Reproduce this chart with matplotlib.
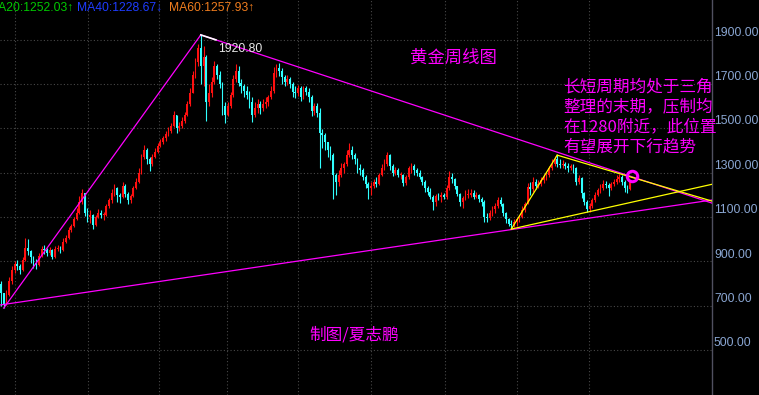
import numpy as np
import matplotlib
matplotlib.use("Agg")
import matplotlib.pyplot as plt
from matplotlib.transforms import blended_transform_factory

closes = [760, 710, 750, 810, 860, 890, 880, 860, 905, 960,
          945, 920, 895, 885, 925, 955, 950, 940, 950, 920,
          955, 960, 950, 990, 1005, 1040, 1060, 1090, 1120, 1170,
          1210, 1120, 1100, 1110, 1065, 1100, 1120, 1110, 1110, 1150,
          1175, 1210, 1230, 1200, 1190, 1240, 1205, 1175, 1195, 1230,
          1260, 1300, 1370, 1400, 1360, 1340, 1370, 1395, 1420, 1440,
          1455, 1475, 1490, 1510, 1560, 1500, 1510, 1535, 1560, 1610,
          1660, 1740, 1800, 1860, 1780, 1820, 1620, 1660, 1710, 1780,
          1740, 1700, 1600, 1560, 1600, 1650, 1720, 1760, 1705, 1690,
          1670, 1650, 1620, 1560, 1590, 1610, 1590, 1610, 1620, 1640,
          1670, 1750, 1770, 1760, 1730, 1710, 1720, 1700, 1665, 1660,
          1680, 1640, 1680, 1665, 1640, 1580, 1600, 1570, 1480, 1470,
          1440, 1400, 1380, 1290, 1260, 1290, 1320, 1340, 1380, 1400,
          1380, 1360, 1320, 1310, 1280, 1250, 1230, 1240, 1260, 1250,
          1290, 1320, 1340, 1380, 1330, 1300, 1310, 1290, 1290, 1255,
          1280, 1320, 1330, 1310, 1300, 1280, 1260, 1230, 1215, 1190,
          1170, 1195, 1190, 1200, 1190, 1230, 1280, 1270, 1240, 1205,
          1170, 1185, 1200, 1200, 1210, 1190, 1200, 1180, 1170, 1100,
          1095, 1120, 1135, 1150, 1175, 1160, 1120, 1090, 1070, 1065,
          1080, 1090, 1100, 1130, 1160, 1235, 1225, 1260, 1240, 1250,
          1265, 1280, 1290, 1320, 1340, 1360, 1340, 1335, 1340, 1330,
          1320, 1330, 1320, 1260, 1275, 1210, 1170, 1135, 1150, 1175,
          1200, 1220, 1230, 1250, 1245, 1230, 1250, 1260, 1270, 1280,
          1260, 1230, 1225, 1260]
highs = [810, 760, 770, 830, 880, 900, 905, 890, 920, 1005,
         1000, 950, 925, 910, 940, 970, 975, 960, 965, 955,
         970, 975, 970, 1005, 1020, 1055, 1070, 1100, 1140, 1195,
         1226, 1200, 1140, 1130, 1115, 1110, 1135, 1130, 1125, 1160,
         1185, 1225, 1250, 1235, 1210, 1260, 1250, 1215, 1205, 1240,
         1275, 1320, 1385, 1424, 1410, 1370, 1385, 1410, 1435, 1450,
         1465, 1490, 1505, 1525, 1577, 1560, 1530, 1550, 1575, 1625,
         1680, 1760, 1815, 1880, 1920.8, 1870, 1830, 1700, 1730, 1803,
         1790, 1760, 1710, 1620, 1620, 1665, 1740, 1790, 1780, 1720,
         1700, 1690, 1670, 1640, 1620, 1630, 1625, 1630, 1640, 1650,
         1690, 1775, 1790, 1795, 1770, 1740, 1740, 1730, 1710, 1690,
         1695, 1690, 1690, 1690, 1680, 1650, 1615, 1615, 1590, 1495,
         1480, 1440, 1420, 1390, 1300, 1310, 1345, 1350, 1400, 1434,
         1420, 1390, 1365, 1340, 1320, 1290, 1260, 1260, 1270, 1280,
         1300, 1340, 1360, 1392, 1385, 1340, 1325, 1320, 1305, 1295,
         1290, 1330, 1345, 1340, 1320, 1310, 1285, 1265, 1240, 1230,
         1200, 1205, 1210, 1215, 1210, 1245, 1307, 1300, 1275, 1240,
         1210, 1195, 1220, 1225, 1225, 1220, 1215, 1205, 1190, 1175,
         1120, 1130, 1150, 1165, 1190, 1191, 1165, 1125, 1095, 1085,
         1090, 1100, 1110, 1150, 1170, 1255, 1260, 1282, 1270, 1265,
         1280, 1295, 1305, 1330, 1360, 1375, 1379, 1360, 1355, 1350,
         1345, 1340, 1340, 1325, 1290, 1280, 1215, 1175, 1165, 1185,
         1215, 1230, 1250, 1265, 1263, 1255, 1260, 1270, 1290, 1295,
         1290, 1265, 1245, 1265]
lows = [700, 690, 705, 745, 800, 850, 860, 845, 855, 900,
        930, 895, 870, 865, 880, 920, 935, 925, 930, 910,
        915, 945, 940, 945, 985, 1000, 1035, 1055, 1085, 1115,
        1160, 1105, 1080, 1075, 1045, 1060, 1095, 1095, 1085, 1105,
        1140, 1165, 1195, 1170, 1165, 1185, 1190, 1158, 1165, 1190,
        1225, 1255, 1295, 1360, 1340, 1308, 1330, 1365, 1390, 1415,
        1430, 1445, 1465, 1480, 1505, 1480, 1490, 1500, 1525, 1555,
        1600, 1660, 1725, 1780, 1700, 1690, 1535, 1600, 1640, 1700,
        1720, 1680, 1560, 1523, 1555, 1590, 1640, 1710, 1690, 1660,
        1640, 1630, 1590, 1527, 1550, 1570, 1565, 1580, 1590, 1600,
        1630, 1660, 1730, 1735, 1700, 1690, 1695, 1680, 1640, 1635,
        1645, 1625, 1630, 1650, 1620, 1555, 1560, 1550, 1321, 1410,
        1400, 1370, 1355, 1180, 1200, 1240, 1280, 1300, 1330, 1370,
        1360, 1340, 1300, 1290, 1265, 1230, 1182, 1200, 1230, 1235,
        1245, 1285, 1310, 1330, 1310, 1285, 1290, 1280, 1270, 1240,
        1245, 1270, 1300, 1290, 1285, 1270, 1245, 1215, 1200, 1180,
        1131, 1150, 1175, 1170, 1180, 1180, 1220, 1255, 1225, 1195,
        1150, 1142, 1175, 1185, 1190, 1180, 1185, 1170, 1150, 1077,
        1080, 1085, 1105, 1120, 1140, 1150, 1105, 1075, 1060, 1046,
        1055, 1060, 1080, 1095, 1125, 1160, 1200, 1215, 1225, 1230,
        1240, 1255, 1265, 1280, 1310, 1330, 1325, 1320, 1320, 1315,
        1305, 1310, 1300, 1245, 1250, 1185, 1155, 1122, 1125, 1140,
        1170, 1195, 1210, 1220, 1230, 1195, 1220, 1240, 1250, 1260,
        1245, 1214, 1210, 1220]
first_open = 800
opens = [first_open] + closes[:-1]
assert len(closes) == len(highs) == len(lows)

price_ticks = [500, 700, 900, 1100, 1300, 1500, 1700, 1900]
year_start_idx = [5.2, 32.2, 58.5, 83.7, 110, 137, 164.4, 191.1, 217.8]
ma_labels = ["MA20:1252.03\u2191", "MA40:1228.67\u2193", "MA60:1257.93\u2191"]
ma_colors = ["#00c800", "#1e3cff", "#f07d1e"]
note_lines = ["长短周期均处于三角", "整理的末期，压制均", "在1280附近，此位置", "有望展开下行趋势"]

W, H = 759, 395
plt.rcParams['font.family'] = ['Liberation Sans', 'DejaVu Sans']
CJK = ['Noto Sans CJK SC', 'DejaVu Sans']
MAG = '#ff00ff'


def fx(x):
    return x / W


def fy(y):
    return 1 - y / H


fig = plt.figure(figsize=(W / 100, H / 100), dpi=100, facecolor='black')
ax = fig.add_axes([0, 0, 712 / W, 1], facecolor='black')
ax.set_xlim(-1 / 2.7, 711 / 2.7)
ax.set_ylim(298.5, 2078)
for s in ['left', 'top', 'bottom']:
    ax.spines[s].set_visible(False)
ax.spines['right'].set_color('#505060')
ax.spines['right'].set_linewidth(1.0)
ax.set_xticks([])
ax.set_yticks([])

# dotted grid
for p in price_ticks:
    ax.axhline(p, color='#484848', lw=0.8, ls=(0, (1, 2)), zorder=0)
for xi in year_start_idx:
    ax.axvline(xi, color='#484848', lw=0.8, ls=(0, (1, 2)), zorder=0)

# candles
o = np.array(opens, float)
c = np.array(closes, float)
hi = np.maximum(np.array(highs, float), np.maximum(o, c))
lo = np.minimum(np.array(lows, float), np.minimum(o, c))
idx = np.arange(len(c))
up = c >= o
cols = np.where(up, '#ff1010', '#30ffff')
ax.vlines(idx, lo, hi, colors=cols, lw=0.8, zorder=2)
body = np.maximum(np.abs(c - o), 4.5)
ax.bar(idx, body, bottom=np.minimum(o, c), width=0.6, color=cols, lw=0, zorder=2)

# trend lines
x_end = 711 / 2.7
x_start = -1 / 2.7
i_peak = 74
ax.plot([1, i_peak], [lows[1], highs[i_peak]], color=MAG, lw=0.9, zorder=3)
ax.plot([i_peak, x_end], [highs[i_peak], 1163], color=MAG, lw=0.9, zorder=3)
ax.plot([x_start, x_end], [704, 1177], color=MAG, lw=0.9, zorder=3)
seg_x = 79.6
seg_y = highs[i_peak] + (1163 - highs[i_peak]) * (seg_x - i_peak) / (x_end - i_peak)
ax.plot([i_peak, seg_x], [highs[i_peak], seg_y], color='white', lw=1.2, zorder=4)

i_lo, i_hi, i_lo2 = 189, 206, 217
ax.plot([i_lo, i_hi], [lows[i_lo], highs[i_hi]], color='#ffff00', lw=0.9, zorder=3)
ax.plot([i_hi, x_end], [highs[i_hi], 1172], color='#ffff00', lw=0.9, zorder=3)
slope = (lows[i_lo2] - lows[i_lo]) / (i_lo2 - i_lo)
ax.plot([i_lo, x_end], [lows[i_lo], lows[i_lo] + slope * (x_end - i_lo)],
        color='#ffff00', lw=0.9, zorder=3)

ax.plot([233.7], [1285], marker='o', ms=7.5, mfc='none', mec=MAG, mew=2.2, zorder=5)

# peak label
ax.text(80.4, 1855, '1920.80', color='#e8e8e8', fontsize=8.8, ha='left', va='center', zorder=6)

# price axis labels
tr = blended_transform_factory(ax.transAxes, ax.transData)
for p in price_ticks:
    ax.text(1 + 2 / 712, p + 4, f'{p:.2f}', transform=tr, color='#8aa6d2',
            fontsize=8.8, ha='left', va='bottom', clip_on=False)

# header MA values
for lab, col, x0 in zip(ma_labels, ma_colors, [-12, 77, 169]):
    fig.text(fx(x0), fy(8), lab, color=col, fontsize=8.7, ha='left', va='center')

# chinese annotations
fig.text(fx(410), fy(58), '黄金周线图', color=MAG, fontsize=12.5, family=CJK,
         ha='left', va='center')
fig.text(fx(309), fy(335), '制图/夏志鹏', color=MAG, fontsize=12, family=CJK,
         ha='left', va='center')
for k, line in enumerate(note_lines):
    fig.text(fx(563), fy(87 + 20 * k), line, color=MAG, fontsize=12, family=CJK,
             ha='left', va='center')

fig.savefig('out.png', dpi=100, facecolor='black')
